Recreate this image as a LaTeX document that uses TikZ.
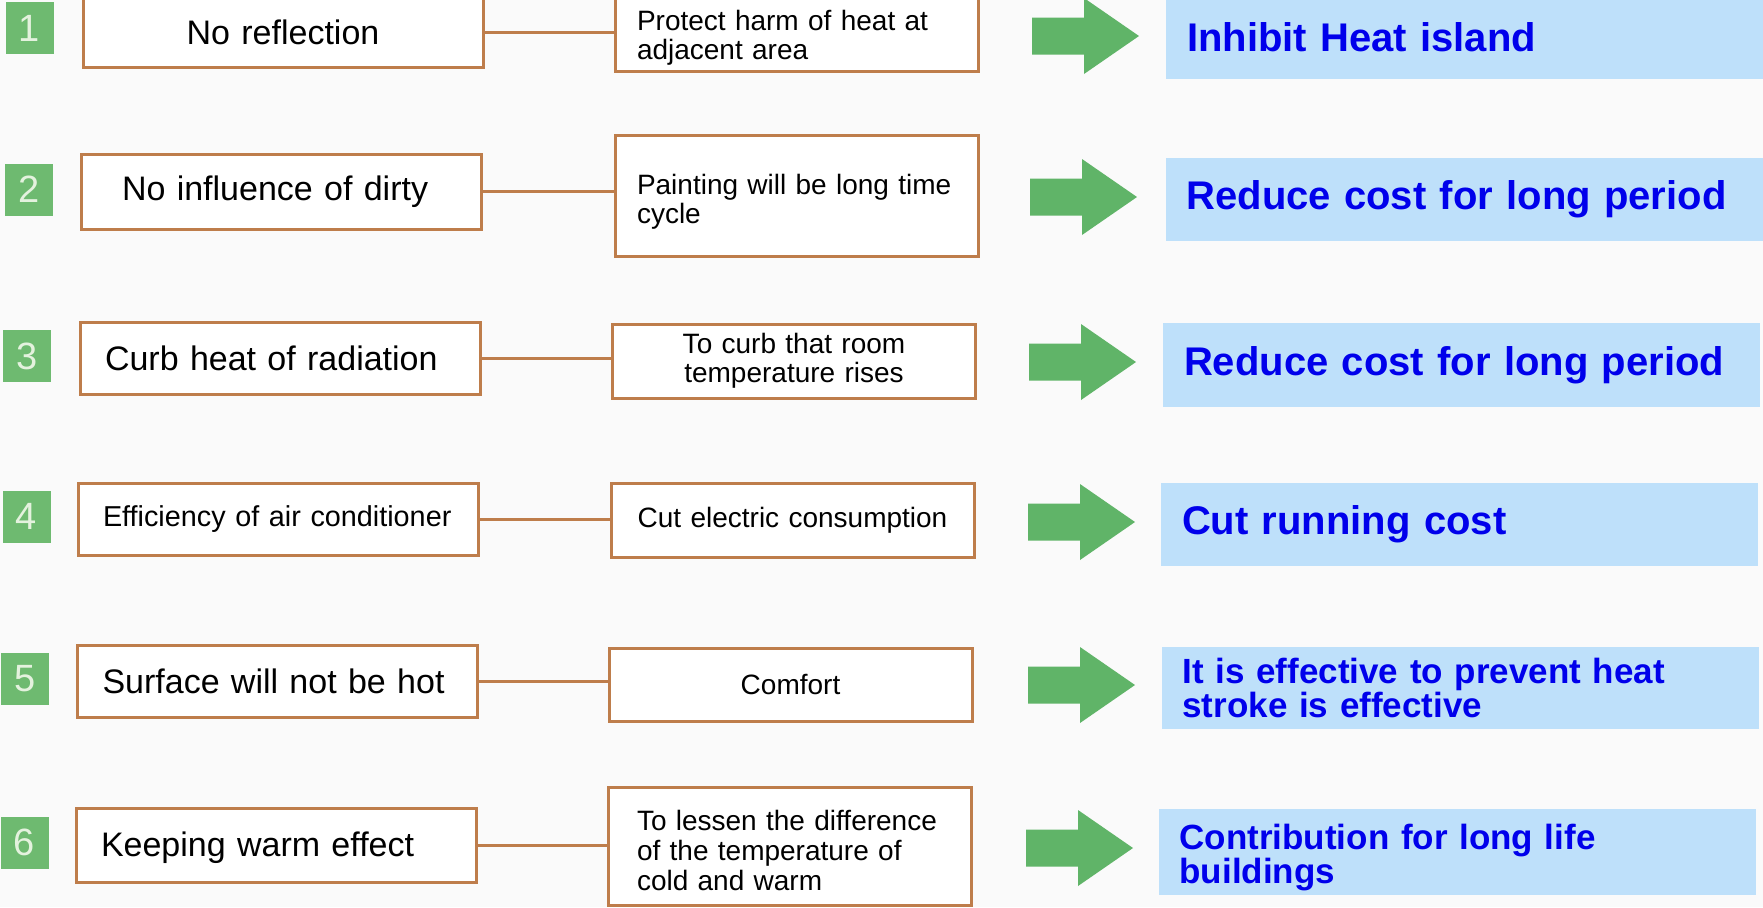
\documentclass[tikz,border=0pt]{standalone}
\usepackage{fontspec}
\setmainfont{Liberation Sans}
\definecolor{bgc}{RGB}{250,250,250}
\definecolor{brd}{RGB}{190,125,75}
\definecolor{badgeg}{RGB}{110,186,112}
\definecolor{digitc}{RGB}{228,242,222}
\definecolor{arrg}{RGB}{96,180,104}
\definecolor{bluefill}{RGB}{190,224,250}
\definecolor{bluetext}{RGB}{0,0,235}
\newcommand\grarrow[2]{\fill[arrowshape] (#1,#2) ++(0,-18.5) -- ++(52,0) -- ++(0,-19.5) -- ++(55,38) -- ++(-55,38) -- ++(0,-19.5) -- ++(-52,0) -- cycle;}
\begin{document}
\begin{tikzpicture}[x=0.5pt,y=-0.5pt,
  arrowshape/.style={fill=arrg},
  badge/.style={fill=badgeg, minimum width=24pt, minimum height=26pt, inner sep=0pt, text=digitc, font=\fontsize{19pt}{19pt}\selectfont},
  lbox/.style={draw=brd, line width=1.5pt, fill=white, minimum width=200pt, minimum height=36pt, inner xsep=12.5pt, inner ysep=0pt, text width=175pt, align=left, font=\fontsize{17pt}{20pt}\selectfont},
  mbox/.style={draw=brd, line width=1.5pt, fill=white, minimum width=181.5pt, minimum height=37pt, inner xsep=11pt, inner ysep=0pt, text width=159.5pt, align=left, font=\fontsize{14pt}{14.5pt}\selectfont},
  bbox/.style={fill=bluefill, minimum width=298.5pt, minimum height=42pt, inner xsep=10.5pt, inner ysep=0pt, text width=277.5pt, align=left, text=bluetext, font=\bfseries\fontsize{20pt}{20pt}\selectfont},
  bbox2/.style={bbox, font=\bfseries\fontsize{17.5pt}{17pt}\selectfont},
  link/.style={draw=brd, line width=1.5pt}
]
\fill[bgc] (0,0) rectangle (1763,907);
\useasboundingbox (0,0) rectangle (1763,907);

% badges
\node[badge] (n1) at (29.5,28) {1};
\node[badge] (n2) at (29,189.5) {2};
\node[badge] (n3) at (27,356) {3};
\node[badge] (n4) at (26.5,516.5) {4};
\node[badge] (n5) at (25,678.5) {5};
\node[badge] (n6) at (24.5,842.5) {6};

% left boxes
\node[lbox, minimum height=35pt, align=center] (l1) at (283,32) {No reflection};
\node[lbox, minimum height=37.5pt, inner xsep=20.5pt, text width=159pt] (l2) at (281,191.5) {No influence of dirty};
\node[lbox] (l3) at (280,358) {Curb heat of radiation};
\node[lbox, font=\fontsize{14.4pt}{16pt}\selectfont] (l4) at (278,519) {Efficiency of air conditioner};
\node[lbox] (l5) at (277.5,681) {Surface will not be hot};
\node[lbox, minimum height=37pt] (l6) at (276,845) {\rule{0pt}{15pt}Keeping warm effect};

% middle boxes
\node[mbox] (m1) at (796.5,34) {\rule{0pt}{14pt}\mbox{Protect harm of heat at}\\\mbox{adjacent area}};
\node[mbox, minimum height=60.5pt] (m2) at (796.5,195.5) {\rule{0pt}{16pt}\mbox{Painting will be long time}\\\mbox{cycle}};
\node[mbox, align=center] (m3) at (794,361) {To curb that room\\temperature rises};
\node[mbox, align=center] (m4) at (792.5,520) {\mbox{Cut electric consumption}};
\node[mbox, align=center, minimum height=36.5pt] (m5) at (790.5,684.5) {Comfort};
\node[mbox, minimum height=59pt, inner xsep=14.5pt, text width=152.5pt, font=\fontsize{14pt}{15pt}\selectfont] (m6) at (789.5,846) {\rule{0pt}{15pt}\mbox{To lessen the difference}\\\mbox{of the temperature of}\\\mbox{cold and warm}};

% connectors
\draw[link] (l1.east) -- (l1.east -| m1.west);
\draw[link] (l2.east) -- (l2.east -| m2.west);
\draw[link] (l3.east) -- (l3.east -| m3.west);
\draw[link] (l4.east) -- (l4.east -| m4.west);
\draw[link] (l5.east) -- (l5.east -| m5.west);
\draw[link] (l6.east) -- (l6.east -| m6.west);

% green arrows
\grarrow{1032}{36}
\grarrow{1030}{197}
\grarrow{1029}{362}
\grarrow{1028}{522}
\grarrow{1028}{685}
\grarrow{1026}{848}

% blue result boxes
\node[bbox] (b1) at (1464.5,37) {Inhibit Heat island};
\node[bbox, minimum height=41.5pt] (b2) at (1464,199.5) {Reduce cost for long period};
\node[bbox] (b3) at (1461.5,365) {Reduce cost for long period};
\node[bbox, minimum height=41.5pt] (b4) at (1459.5,524.5) {Cut running cost};
\node[bbox2, minimum height=41pt] (b5) at (1460,688) {It is effective to prevent heat\\stroke is effective};
\node[bbox2, minimum height=43pt] (b6) at (1457,852) {\rule{0pt}{18pt}Contribution for long life\\buildings};
\end{tikzpicture}
\end{document}
